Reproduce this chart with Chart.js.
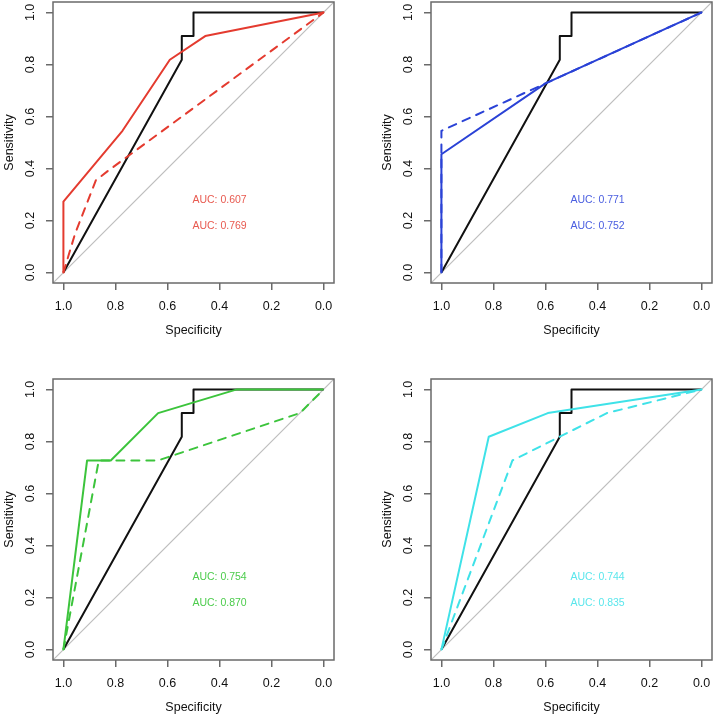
<!DOCTYPE html>
<html><head><meta charset="utf-8">
<script src="https://cdn.jsdelivr.net/npm/chart.js@4/dist/chart.umd.min.js"></script>
<style>
html,body{margin:0;padding:0;background:#fff;width:716px;height:717px;overflow:hidden;}
canvas{position:absolute;}
</style></head><body>
<canvas id="c1" width="338" height="340" style="left:0px;top:0px"></canvas>
<canvas id="c2" width="338" height="340" style="left:378px;top:0px"></canvas>
<canvas id="c3" width="338" height="340" style="left:0px;top:377px"></canvas>
<canvas id="c4" width="338" height="340" style="left:378px;top:377px"></canvas>
<script>
// Tick labels
const specTicks = [1.0, 0.8, 0.6, 0.4, 0.2, 0.0];
const sensTicks = [0.0, 0.2, 0.4, 0.6, 0.8, 1.0];

// Reference ROC curve (black, same in all panels)
const refSpec = [1, 0.545, 0.545, 0.5, 0.5, 0];
const refSens = [0, 0.818, 0.909, 0.909, 1, 1];

// Chance diagonal (corner to corner of the plot box)
const diagSpec = [1.04, -0.04];
const diagSens = [-0.04, 1.04];

// Panel 1 (red)
const redSolidSpec = [1, 1, 0.773, 0.591, 0.455, 0];
const redSolidSens = [0, 0.273, 0.545, 0.818, 0.909, 1];
const redDashSpec = [1, 0.955, 0.875, 0.83, 0];
const redDashSens = [0, 0.15, 0.355, 0.39, 1];
const redAuc = ["AUC: 0.607", "AUC: 0.769"];

// Panel 2 (blue)
const blueSolidSpec = [1, 1, 0.6, 0];
const blueSolidSens = [0, 0.455, 0.727, 1];
const blueDashSpec = [1, 1, 0];
const blueDashSens = [0, 0.545, 1];
const blueAuc = ["AUC: 0.771", "AUC: 0.752"];

// Panel 3 (green)
const greenSolidSpec = [1, 0.909, 0.818, 0.636, 0.333, 0];
const greenSolidSens = [0, 0.727, 0.727, 0.909, 1, 1];
const greenDashSpec = [1, 0.864, 0.636, 0.091, 0];
const greenDashSens = [0, 0.727, 0.727, 0.909, 1];
const greenAuc = ["AUC: 0.754", "AUC: 0.870"];

// Panel 4 (cyan)
const cyanSolidSpec = [1, 0.818, 0.591, 0];
const cyanSolidSens = [0, 0.818, 0.909, 1];
const cyanDashSpec = [1, 0.727, 0.364, 0];
const cyanDashSens = [0, 0.727, 0.909, 1];
const cyanAuc = ["AUC: 0.744", "AUC: 0.835"];

const FONT = '"Liberation Sans", Arial, Helvetica, sans-serif';
const TEXT = '#111111';
const AXIS = '#6a6a6a';

function pts(xs, ys) { return xs.map((x, i) => ({x: x, y: ys[i]})); }

const framePlugin = {
  id: 'frame',
  afterDatasetsDraw(chart) {
    const {ctx, chartArea: a} = chart;
    ctx.save();
    ctx.strokeStyle = AXIS;
    ctx.lineWidth = 1.5;
    ctx.strokeRect(a.left, a.top, a.right - a.left, a.bottom - a.top);
    ctx.restore();
  }
};

const aucPlugin = {
  id: 'aucText',
  afterDatasetsDraw(chart, args, opts) {
    const {ctx, scales} = chart;
    ctx.save();
    ctx.font = '10.5px ' + FONT;
    ctx.fillStyle = opts.color;
    ctx.textAlign = 'center';
    ctx.textBaseline = 'middle';
    opts.labels.forEach((t, i) => {
      ctx.fillText(t, scales.x.getPixelForValue(opts.x), scales.y.getPixelForValue(opts.y[i]));
    });
    ctx.restore();
  }
};

function makePanel(id, color, textColor, sSpec, sSens, dSpec, dSens, labels) {
  new Chart(document.getElementById(id), {
    type: 'line',
    data: {
      datasets: [
        {data: pts(sSpec, sSens), borderColor: color, borderWidth: 2, order: 0},
        {data: pts(dSpec, dSens), borderColor: color, borderWidth: 2, borderDash: [8, 7], borderCapStyle: 'round', order: 1},
        {data: pts(refSpec, refSens), borderColor: '#111111', borderWidth: 2, order: 2},
        {data: pts(diagSpec, diagSens), borderColor: '#bdbdbd', borderWidth: 1.2, order: 3}
      ]
    },
    options: {
      responsive: false,
      animation: false,
      devicePixelRatio: 1,
      layout: {padding: {top: 2, right: 4, left: 0, bottom: 0}},
      elements: {point: {radius: 0, hoverRadius: 0}, line: {tension: 0, fill: false, borderJoinStyle: 'round'}},
      plugins: {
        legend: {display: false},
        tooltip: {enabled: false},
        aucText: {labels: labels, color: textColor, x: 0.4, y: [0.28, 0.18]}
      },
      scales: {
        x: {
          type: 'linear', reverse: true, min: -0.04, max: 1.04,
          afterBuildTicks: s => { s.ticks = specTicks.map(v => ({value: v})); },
          afterFit: s => { s.height = 57; s.paddingLeft = 0; s.paddingRight = 0; },
          ticks: {autoSkip: false, maxRotation: 0, minRotation: 0, padding: 9.5, color: TEXT,
                  font: {family: FONT, size: 12.5}, callback: v => Number(v).toFixed(1)},
          grid: {drawOnChartArea: false, drawTicks: true, tickLength: 7, color: AXIS, lineWidth: 1.5},
          border: {display: false},
          title: {display: true, text: 'Specificity', color: TEXT, font: {family: FONT, size: 12.5},
                  padding: {top: 0, bottom: 1.5}}
        },
        y: {
          type: 'linear', min: -0.04, max: 1.04,
          afterBuildTicks: s => { s.ticks = sensTicks.map(v => ({value: v})); },
          afterFit: s => { s.width = 53; s.paddingTop = 0; s.paddingBottom = 0; },
          ticks: {autoSkip: false, minRotation: 90, maxRotation: 90, crossAlign: 'center', padding: 6.5,
                  color: TEXT, font: {family: FONT, size: 12.5}, callback: v => Number(v).toFixed(1)},
          grid: {drawOnChartArea: false, drawTicks: true, tickLength: 7, color: AXIS, lineWidth: 1.5},
          border: {display: false},
          title: {display: true, text: 'Sensitivity', color: TEXT, font: {family: FONT, size: 12.5},
                  padding: {top: 2, bottom: 0}}
        }
      }
    },
    plugins: [framePlugin, aucPlugin]
  });
}

makePanel('c1', '#e43b2f', '#e85a50', redSolidSpec, redSolidSens, redDashSpec, redDashSens, redAuc);
makePanel('c2', '#2a42d6', '#4a5ee0', blueSolidSpec, blueSolidSens, blueDashSpec, blueDashSens, blueAuc);
makePanel('c3', '#3cc43c', '#4ccc4c', greenSolidSpec, greenSolidSens, greenDashSpec, greenDashSens, greenAuc);
makePanel('c4', '#3fe2e8', '#5ae6ec', cyanSolidSpec, cyanSolidSens, cyanDashSpec, cyanDashSens, cyanAuc);
</script>
</body></html>
